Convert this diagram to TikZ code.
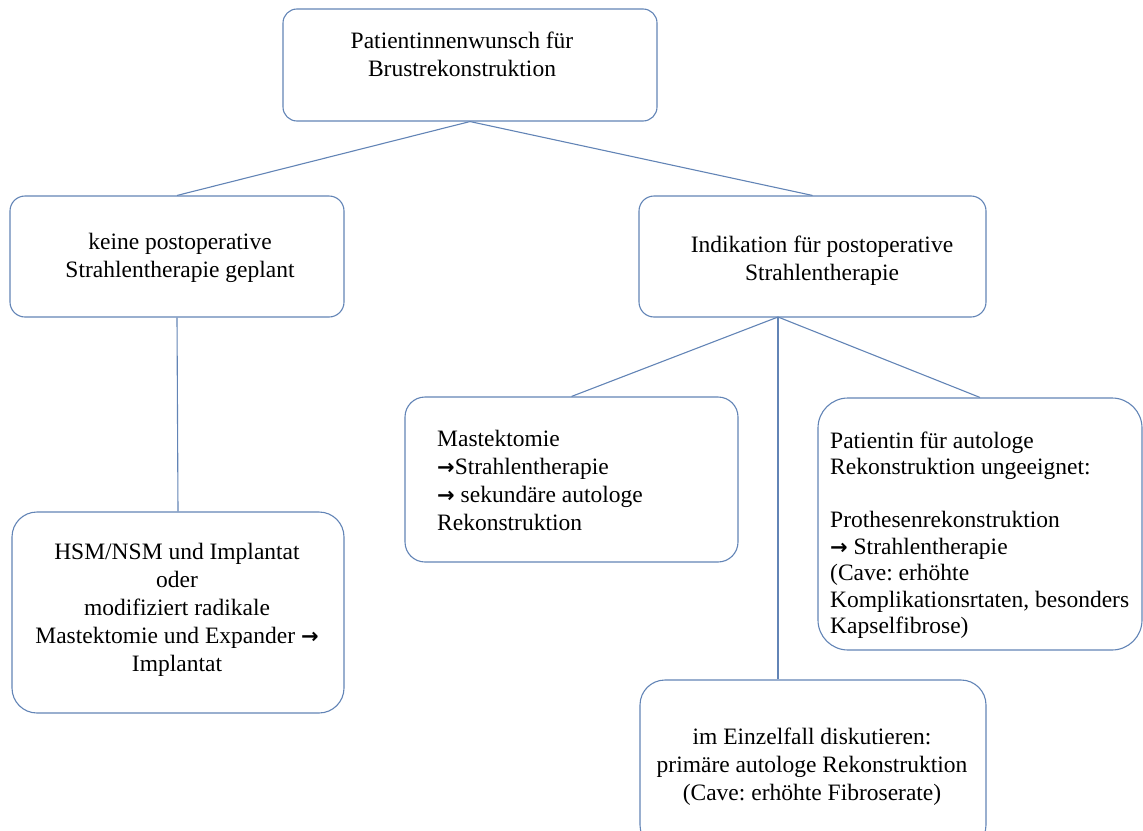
\documentclass[tikz,border=0pt]{standalone}
\usepackage{fontspec}
\setmainfont{Liberation Serif}
\newfontfamily\pfeilfont{DejaVu Sans}
\usepackage{tikz}
\definecolor{rahmen}{RGB}{98,132,182}
\newcommand{\pfeil}{{\pfeilfont\bfseries\fontsize{21}{28}\selectfont →}}
\frenchspacing

\begin{document}
\begin{tikzpicture}[x = 1pt, y = -1pt,
	kasten/.style = {draw = rahmen, line width = 1.1pt, rectangle, inner sep = 0pt},
	linie/.style  = {draw = rahmen, line width = 1.1pt},
	txt/.style    = {black, inner sep = 0pt, align = center, font = \fontsize{23.5}{28}\selectfont}]

	\useasboundingbox (0, 0) rectangle (1143, 830);

	%%% KAESTEN %%%

	\node[kasten, minimum width = 374pt, minimum height = 112pt, rounded corners = 14pt] (wunsch)     at ( 470,  65.0) {};
	\node[kasten, minimum width = 334pt, minimum height = 121pt, rounded corners = 15pt] (keine)      at ( 177, 256.5) {};
	\node[kasten, minimum width = 347pt, minimum height = 121pt, rounded corners = 15pt] (indik)      at (812.5, 256.5) {};
	\node[kasten, minimum width = 332pt, minimum height = 201pt, rounded corners = 25pt] (hsm)        at ( 178, 612.5) {};
	\node[kasten, minimum width = 333pt, minimum height = 165pt, rounded corners = 20pt] (mast)       at (571.5, 479.5) {};
	\node[kasten, minimum width = 324pt, minimum height = 252pt, rounded corners = 30pt] (ungeeignet) at ( 980, 524.0) {};
	\node[kasten, minimum width = 346pt, minimum height = 170pt, rounded corners = 25pt] (einzel)     at ( 813, 765.0) {};

	%%% TEXTE %%%

	\node[txt] (twunsch) at (462,  54) {Patientinnenwunsch für\\Brustrekonstruktion};
	\node[txt] (tkeine)  at (180, 258) {keine postoperative\\Strahlentherapie geplant};
	\node[txt] (tindik)  at (822, 261) {Indikation für postoperative\\Strahlentherapie};
	\node[txt] (thsm)    at (177, 610) {HSM/NSM und Implantat\\oder\\modifiziert radikale\\Mastektomie und Expander \pfeil\\Implantat};
	\node[txt, anchor = west, align = left] (tmast) at (437, 480) {Mastektomie\\\pfeil Strahlentherapie\\\pfeil{} sekundäre autologe\\Rekonstruktion};
	\node[txt, anchor = west, align = left, font = \fontsize{23.5}{26.5}\selectfont] (tungeeignet) at (830, 535)
		{Patientin für autologe\\Rekonstruktion ungeeignet:\\[\baselineskip]Prothesenrekonstruktion\\\pfeil{} Strahlentherapie\\(Cave: erhöhte\\Komplikationsrtaten, besonders\\Kapselfibrose)};
	\node[txt] (teinzel) at (812, 767) {im Einzelfall diskutieren:\\primäre autologe Rekonstruktion\\(Cave: erhöhte Fibroserate)};

	%%% VERBINDUNGEN %%%

	\coordinate (gabel) at (778, 317);

	\draw[linie] (wunsch.south) -- (keine.north);
	\draw[linie] (wunsch.south) -- (indik.north);
	\draw[linie] (keine.south)  -- (hsm.north);
	\draw[linie] (gabel) -- (mast.north);
	\draw[linie] (gabel) -- (ungeeignet.north);
	\draw[linie] (gabel) -- (gabel |- einzel.north);

\end{tikzpicture}
\end{document}
